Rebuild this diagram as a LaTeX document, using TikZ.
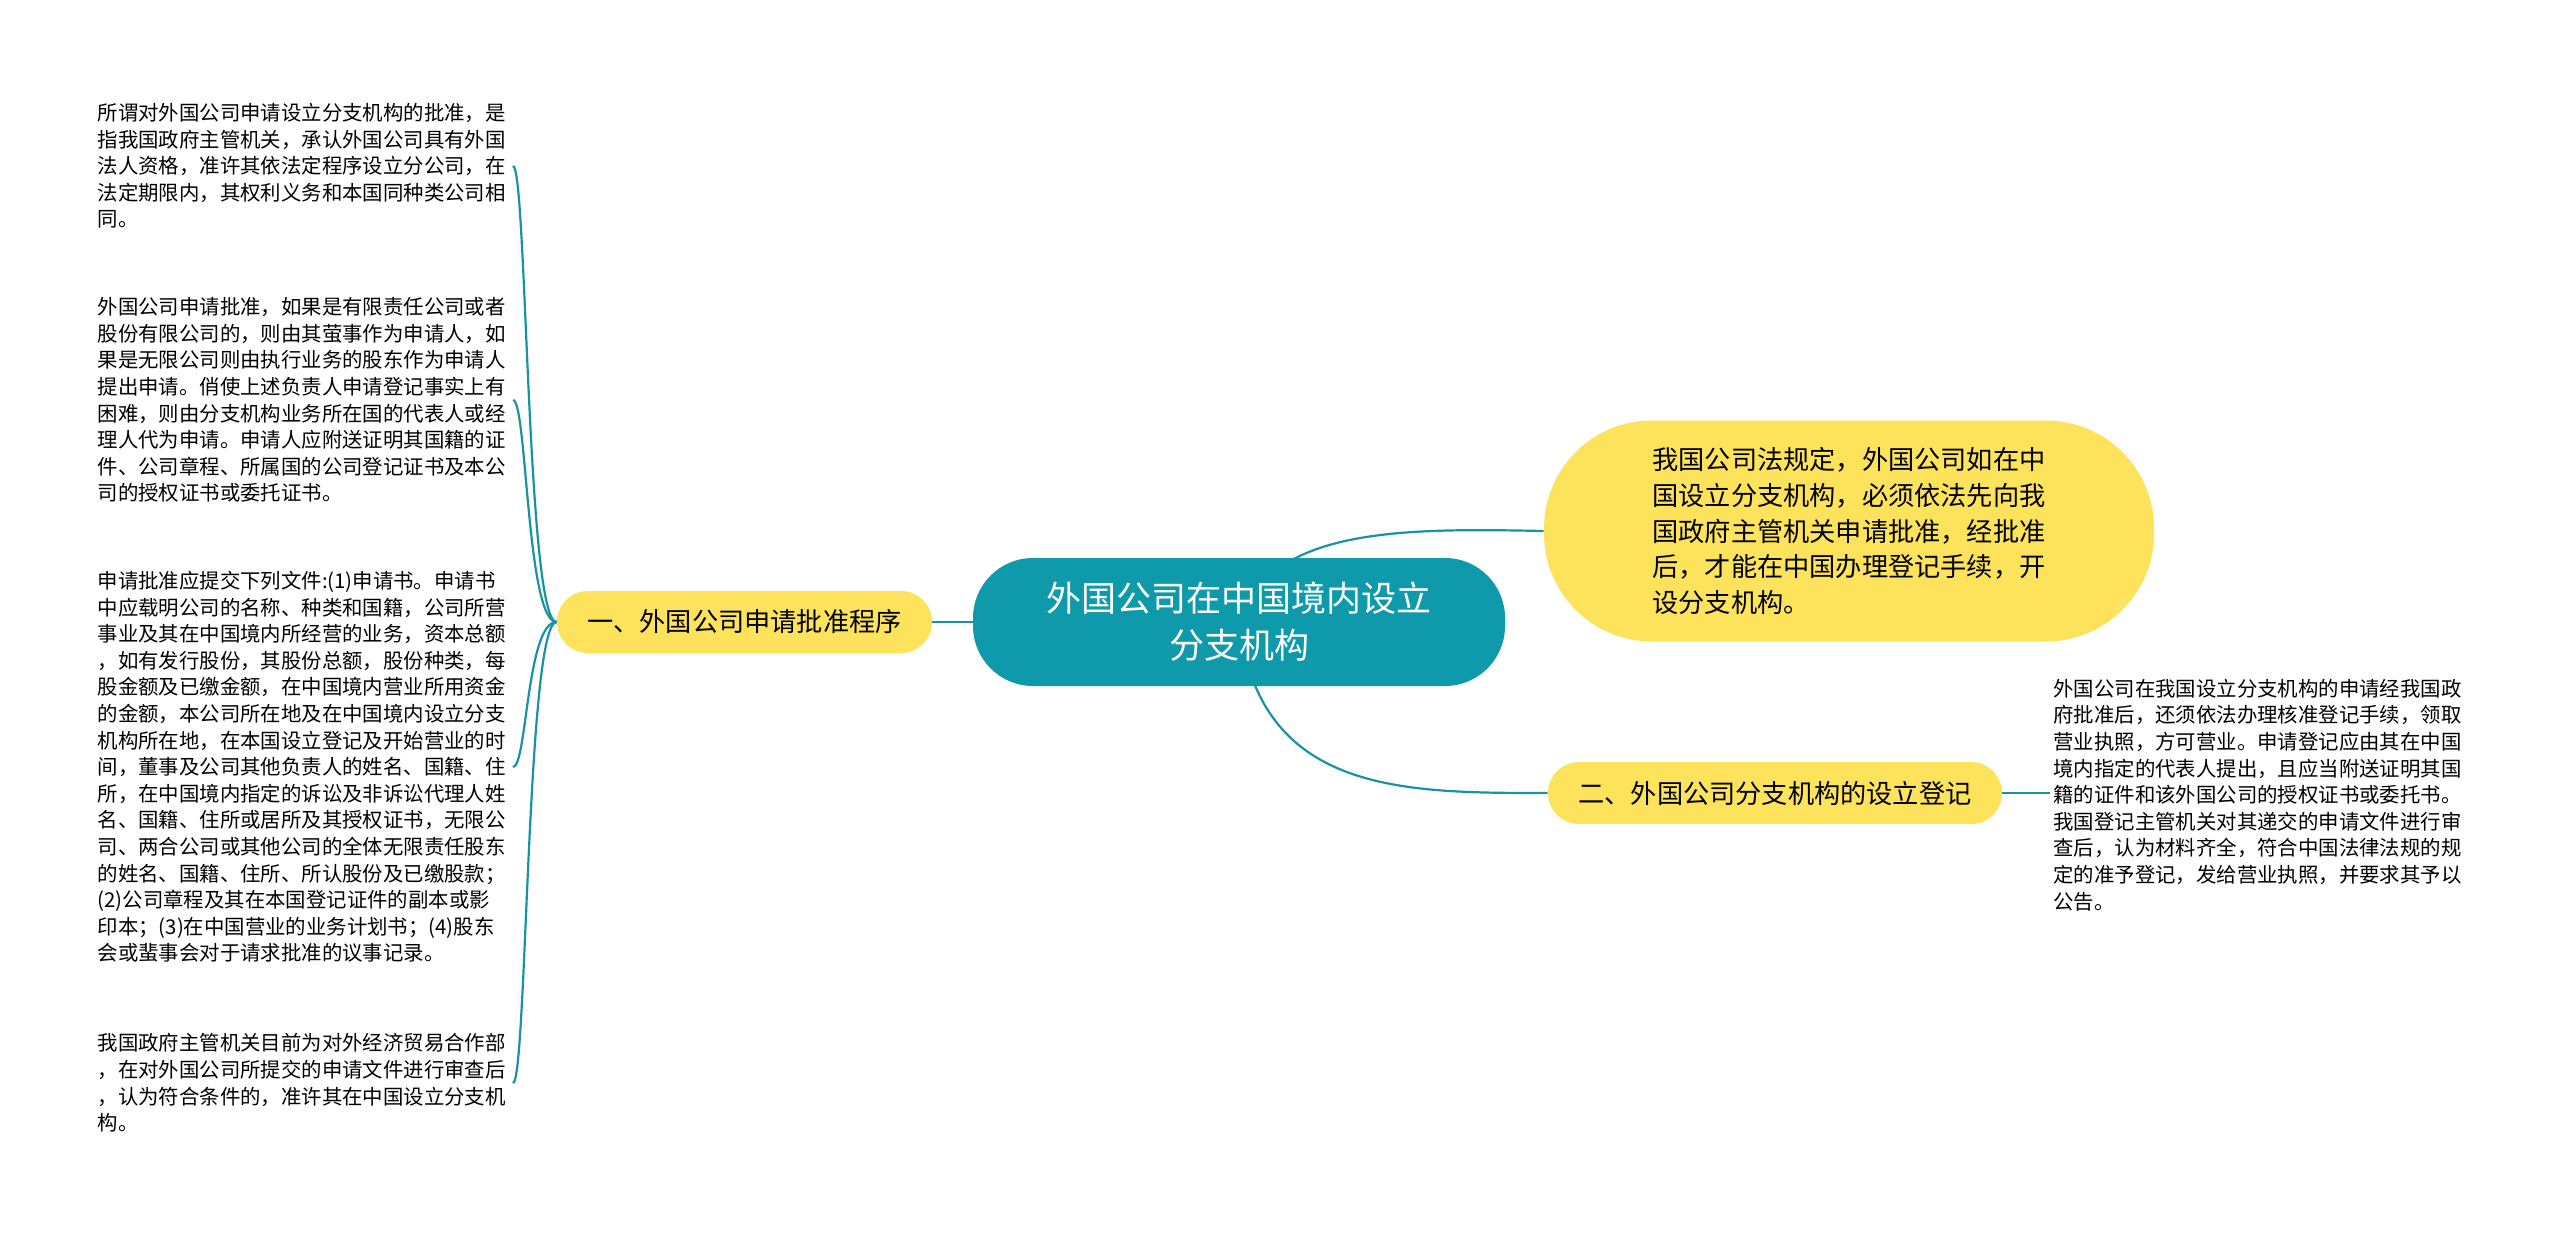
\documentclass[tikz,border=0pt]{standalone}
\usepackage{fontspec}
\setmainfont{Noto Sans CJK SC}
\pgfdeclarelayer{edgelayer}
\pgfdeclarelayer{nodelayer}
\pgfsetlayers{edgelayer,nodelayer,main}
\definecolor{rootteal}{HTML}{0E9AAA}
\definecolor{topicyellow}{HTML}{FDE35B}
\definecolor{branchteal}{HTML}{1A92A2}
\tikzstyle{root_topic}=[rounded corners=30pt,fill=rootteal,text=white,align=center,minimum width=266pt,minimum height=64pt,font=\fontsize{17.5pt}{23.5pt}\selectfont]
\tikzstyle{main_topic}=[rounded corners=15.5pt,fill=topicyellow,minimum height=31pt,font=\fontsize{13.1pt}{17.8pt}\selectfont]
\tikzstyle{leaf_text}=[align=left,text width=206pt,inner xsep=1.5pt,font=\fontsize{10.2pt}{13.3pt}\selectfont]
\tikzstyle{branch}=[draw=branchteal,line width=1.1pt]

\begin{document}
\begin{tikzpicture}[x=0.5pt,y=-0.5pt]
	\begin{pgfonlayer}{edgelayer}
		\fill [white] (0, 0) rectangle (2560, 1232);
	\end{pgfonlayer}
	\useasboundingbox (0, 0) rectangle (2560, 1232);
	\begin{pgfonlayer}{nodelayer}
		\node [style={root_topic}] (0) at (1239, 622) {外国公司在中国境内设立\\分支机构};
		\node [style={main_topic}, minimum width=187.5pt] (1) at (744.5, 622) {一、外国公司申请批准程序};
		\node [style={main_topic}, minimum width=305pt, minimum height=110.5pt, rounded corners=54pt, align=left] (2) at (1849, 531) {我国公司法规定，外国公司如在中\\国设立分支机构，必须依法先向我\\国政府主管机关申请批准，经批准\\后，才能在中国办理登记手续，开\\设分支机构。};
		\node [style={main_topic}, minimum width=227pt] (3) at (1775, 793) {二、外国公司分支机构的设立登记};
		\node [style={leaf_text}, anchor=east] (4) at (513, 166) {所谓对外国公司申请设立分支机构的批准，是\\指我国政府主管机关，承认外国公司具有外国\\法人资格，准许其依法定程序设立分公司，在\\法定期限内，其权利义务和本国同种类公司相\\同。};
		\node [style={leaf_text}, anchor=east] (5) at (513, 400) {外国公司申请批准，如果是有限责任公司或者\\股份有限公司的，则由其萤事作为申请人，如\\果是无限公司则由执行业务的股东作为申请人\\提出申请。俏使上述负责人申请登记事实上有\\困难，则由分支机构业务所在国的代表人或经\\理人代为申请。申请人应附送证明其国籍的证\\件、公司章程、所属国的公司登记证书及本公\\司的授权证书或委托证书。};
		\node [style={leaf_text}, anchor=east] (6) at (513, 767) {申请批准应提交下列文件:(1)申请书。申请书\\中应载明公司的名称、种类和国籍，公司所营\\事业及其在中国境内所经营的业务，资本总额\\，如有发行股份，其股份总额，股份种类，每\\股金额及已缴金额，在中国境内营业所用资金\\的金额，本公司所在地及在中国境内设立分支\\机构所在地，在本国设立登记及开始营业的时\\间，董事及公司其他负责人的姓名、国籍、住\\所，在中国境内指定的诉讼及非诉讼代理人姓\\名、国籍、住所或居所及其授权证书，无限公\\司、两合公司或其他公司的全体无限责任股东\\的姓名、国籍、住所、所认股份及已缴股款；\\(2)公司章程及其在本国登记证件的副本或影\\印本；(3)在中国营业的业务计划书；(4)股东\\会或蜚事会对于请求批准的议事记录。};
		\node [style={leaf_text}, anchor=east] (7) at (513, 1083) {我国政府主管机关目前为对外经济贸易合作部\\，在对外国公司所提交的申请文件进行审查后\\，认为符合条件的，准许其在中国设立分支机\\构。};
		\node [style={leaf_text}, anchor=west] (8) at (2050, 795) {外国公司在我国设立分支机构的申请经我国政\\府批准后，还须依法办理核准登记手续，领取\\营业执照，方可营业。申请登记应由其在中国\\境内指定的代表人提出，且应当附送证明其国\\籍的证件和该外国公司的授权证书或委托书。\\我国登记主管机关对其递交的申请文件进行审\\查后，认为材料齐全，符合中国法律法规的规\\定的准予登记，发给营业执照，并要求其予以\\公告。};
	\end{pgfonlayer}
	\begin{pgfonlayer}{edgelayer}
		\draw [style=branch] (1.east) -- (0.west);
		\draw [style=branch] (0.center) .. controls (1270, 528) and (1400, 528) .. (2.west);
		\draw [style=branch] (0.center) .. controls (1260, 793) and (1400, 793) .. (3.west);
		\draw [style=branch] (3.east) -- (3.east -| 8.west);
		\draw [style=branch] (1.west) .. controls +(-30, 0) and +(14, 0) .. (4.east);
		\draw [style=branch] (1.west) .. controls +(-30, 0) and +(14, 0) .. (5.east);
		\draw [style=branch] (1.west) .. controls +(-30, 0) and +(14, 0) .. (6.east);
		\draw [style=branch] (1.west) .. controls +(-30, 0) and +(14, 0) .. (7.east);
	\end{pgfonlayer}
\end{tikzpicture}
\end{document}
